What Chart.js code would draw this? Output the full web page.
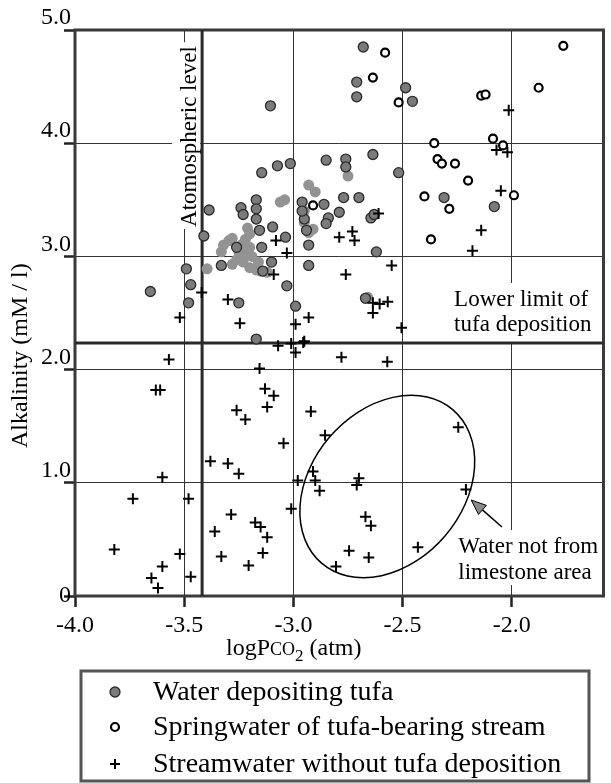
<!DOCTYPE html>
<html><head><meta charset="utf-8">
<script src="https://cdn.jsdelivr.net/npm/chart.js@4.4.1/dist/chart.umd.min.js"></script>
<style>html,body{margin:0;padding:0;background:#fff;}#wrap{position:relative;width:611px;height:783px;}</style>
</head><body><div id="wrap"><canvas id="c" width="611" height="783"></canvas></div>
<script>
// ---- data ----
const xTicks = [-4.0, -3.5, -3.0, -2.5, -2.0];
const yTicks = [0, 1, 2, 3, 4, 5];
const atmosphericLevel = -3.418;
const lowerLimit = 2.235;

// Water depositing tufa (dark outlined markers)
const tufaX = [-3.105,-3.073,-3.014,-3.145,-3.386,-3.24,-3.23,-3.17,-3.17,-3.17,-3.095,-3.036,-3.155,-3.145,-3.41,-3.33,-3.10,-3.03,-2.93,-2.93,-2.99,-3.49,-3.47,-3.48,-3.655,-3.25,-3.17,-2.68,-2.71,-2.71,-2.486,-2.455,-2.85,-2.76,-2.76,-2.636,-2.518,-2.86,-2.84,-2.85,-2.77,-2.70,-2.79,-2.645,-2.63,-2.62,-2.31,-2.08,-2.67,-2.96,-2.95,-2.94,-2.96,-3.26,-3.14];
const tufaY = [4.33,3.80,3.82,3.74,3.41,3.43,3.37,3.50,3.42,3.33,3.26,3.17,3.23,3.08,3.18,2.92,2.95,2.74,3.10,2.92,2.56,2.89,2.75,2.59,2.69,2.59,2.27,4.85,4.54,4.41,4.49,4.37,3.85,3.86,3.79,3.90,3.74,3.46,3.34,3.29,3.52,3.52,3.39,3.34,3.37,3.04,3.52,3.44,2.63,3.48,3.33,3.23,3.40,3.08,2.87];
// Water depositing tufa (lighter printed markers)
const tufaLightX = [-3.395,-3.33,-3.32,-3.295,-3.28,-3.25,-3.24,-3.22,-3.21,-3.20,-3.26,-3.23,-3.20,-3.17,-3.15,-3.22,-3.19,-3.16,-3.28,-3.20,-3.06,-3.04,-2.93,-2.90,-2.95,-2.95,-2.93,-2.91,-2.75,-2.66,-3.12];
const tufaLightY = [2.89,3.04,3.10,3.14,3.16,3.04,3.10,3.15,3.25,3.20,2.97,2.95,2.90,2.88,2.87,3.02,3.00,2.95,2.93,3.08,3.48,3.50,3.63,3.57,3.40,3.30,3.21,3.24,3.71,2.64,2.86];
// Springwater of tufa-bearing stream
const springX = [-2.58,-2.636,-2.518,-2.14,-2.12,-1.877,-1.764,-2.355,-2.34,-2.32,-2.26,-2.086,-2.04,-2.20,-2.40,-2.286,-1.99,-2.37,-2.91];
const springY = [4.80,4.58,4.36,4.42,4.43,4.49,4.86,4.00,3.86,3.82,3.82,4.04,3.98,3.67,3.53,3.42,3.54,3.15,3.45];
// Streamwater without tufa deposition
const streamX = [-2.014,-2.07,-2.02,-2.05,-2.14,-2.18,-2.61,-2.79,-2.73,-2.72,-2.55,-2.76,-2.636,-2.605,-2.568,-2.636,-2.93,-2.505,-2.95,-2.78,-2.57,-2.92,-2.855,-2.245,-2.91,-2.90,-2.88,-2.70,-2.71,-2.21,-2.67,-2.645,-2.745,-2.655,-2.805,-2.43,-3.52,-3.245,-3.30,-2.99,-3.07,-3.01,-2.955,-2.99,-3.57,-3.155,-3.63,-3.61,-3.13,-3.09,-3.12,-3.26,-3.22,-3.045,-3.38,-3.30,-3.25,-3.60,-2.98,-3.735,-3.48,-3.01,-3.285,-3.175,-3.15,-3.12,-3.36,-3.82,-3.52,-3.33,-3.14,-3.60,-3.205,-3.65,-3.47,-3.62,-3.42,-3.08,-3.03,-3.09];
const streamY = [4.29,3.94,3.92,3.58,3.23,3.05,3.38,3.17,3.22,3.14,2.92,2.84,2.59,2.58,2.60,2.50,2.46,2.37,2.25,2.11,2.07,1.63,1.42,1.49,1.10,1.02,0.93,1.04,0.98,0.94,0.70,0.62,0.40,0.34,0.26,0.43,2.46,2.41,2.62,2.40,2.21,2.23,2.24,2.15,2.09,2.01,1.82,1.82,1.83,1.77,1.67,1.64,1.56,1.35,1.19,1.17,1.08,1.05,1.02,0.86,0.86,0.77,0.72,0.65,0.61,0.52,0.57,0.41,0.37,0.35,0.38,0.26,0.27,0.16,0.17,0.07,2.68,3.14,3.03,2.84];

const legendLabels = ['Water depositing tufa', 'Springwater of tufa-bearing stream', 'Streamwater without tufa deposition'];

// ---- chart ----
const SERIF = "'Liberation Serif', 'Times New Roman', serif";
const pts = (xs, ys) => xs.map((x, i) => ({x: x, y: ys[i]}));

const annot = {
  id: 'annot',
  beforeDatasetsDraw(chart) {
    const {ctx, chartArea: ca, scales: {x, y}} = chart;
    const ppu = (x.getPixelForValue(-3) - x.getPixelForValue(-4));
    ctx.save();
    ctx.fillStyle = '#000';
    ctx.textBaseline = 'alphabetic';
    ctx.textAlign = 'left';

    // "Atomospheric level" label (white box hides grid behind text)
    const ax = x.getPixelForValue(-3.4455), ay = y.getPixelForValue(3.26);
    ctx.font = '23px ' + SERIF;
    const aw = ctx.measureText('Atomospheric level').width;
    ctx.fillStyle = '#fff';
    ctx.fillRect(ax - 24, ay - aw - 4, 28, aw + 6);
    ctx.fillStyle = '#000';
    ctx.save();
    ctx.translate(ax, ay);
    ctx.rotate(-Math.PI / 2);
    ctx.fillText('Atomospheric level', 0, 0);
    ctx.restore();

    // "Lower limit of tufa deposition"
    const lx = x.getPixelForValue(-2.264), lb = y.getPixelForValue(2.562);
    const lineY = y.getPixelForValue(lowerLimit);
    ctx.fillStyle = '#fff';
    ctx.fillRect(lx - 5, lb - 23, 150, lineY - (lb - 23));
    ctx.fillStyle = '#000';
    ctx.fillText('Lower limit of', lx, lb);
    ctx.fillText('tufa deposition', lx, lb + 25);

    // "Water not from limestone area"
    const wx = x.getPixelForValue(-2.245), wb = y.getPixelForValue(0.38);
    ctx.fillStyle = '#fff';
    ctx.fillRect(wx - 5, wb - 23, 150, 55);
    ctx.fillStyle = '#000';
    ctx.fillText('Water not from', wx, wb);
    ctx.fillText('limestone area', wx, wb + 26);

    // frame
    ctx.strokeStyle = '#3a3a3a';
    ctx.lineWidth = 3;
    ctx.strokeRect(ca.left, ca.top, ca.right - ca.left, ca.bottom - ca.top);

    // atmospheric level & lower limit lines
    ctx.strokeStyle = '#2a2a2a';
    ctx.lineWidth = 3;
    const atx = x.getPixelForValue(atmosphericLevel);
    ctx.beginPath();
    ctx.moveTo(atx, ca.top); ctx.lineTo(atx, ca.bottom);
    ctx.moveTo(ca.left, lineY); ctx.lineTo(ca.right, lineY);
    ctx.stroke();

    // ellipse around non-limestone waters
    const ex = x.getPixelForValue(-2.57), ey = y.getPixelForValue(0.967);
    ctx.strokeStyle = '#000';
    ctx.lineWidth = 1.5;
    ctx.beginPath();
    ctx.ellipse(ex, ey, 0.4623 * ppu, 0.3480 * ppu, -49.4 * Math.PI / 180, 0, Math.PI * 2);
    ctx.stroke();

    // arrow
    const tx = x.getPixelForValue(-2.045), ty = y.getPixelForValue(0.61);
    const hx = x.getPixelForValue(-2.186), hy = y.getPixelForValue(0.848);
    const ang = Math.atan2(hy - ty, hx - tx);
    const hl = 15, hw = 6;
    const bx = hx - hl * Math.cos(ang), by = hy - hl * Math.sin(ang);
    ctx.beginPath();
    ctx.moveTo(tx, ty); ctx.lineTo(bx, by);
    ctx.lineWidth = 1.5;
    ctx.stroke();
    ctx.beginPath();
    ctx.moveTo(hx, hy);
    ctx.lineTo(bx + hw * Math.sin(ang), by - hw * Math.cos(ang));
    ctx.lineTo(bx - hw * Math.sin(ang), by + hw * Math.cos(ang));
    ctx.closePath();
    ctx.fillStyle = '#8a8a8a';
    ctx.fill();
    ctx.lineWidth = 1;
    ctx.stroke();
    ctx.restore();
  },
  afterDraw(chart) {
    const {ctx} = chart;
    ctx.save();
    ctx.fillStyle = '#000';
    ctx.textBaseline = 'alphabetic';
    ctx.textAlign = 'left';
    // y title
    ctx.save();
    ctx.translate(27, 448);
    ctx.rotate(-Math.PI / 2);
    ctx.font = '24px ' + SERIF;
    ctx.fillText('Alkalinity (mM / l)', 0, 0);
    ctx.restore();
    // x title: logP CO 2 (atm)
    let cx = 226; const base = 655;
    ctx.font = '24px ' + SERIF; ctx.fillText('logP', cx, base); cx += ctx.measureText('logP').width;
    ctx.font = '18px ' + SERIF; ctx.fillText('CO', cx, base); cx += ctx.measureText('CO').width;
    ctx.font = '17px ' + SERIF; ctx.fillText('2', cx, base + 6); cx += ctx.measureText('2').width;
    ctx.font = '24px ' + SERIF; ctx.fillText(' (atm)', cx, base);

    // legend box
    ctx.strokeStyle = '#555';
    ctx.lineWidth = 3;
    ctx.strokeRect(81, 671, 508, 110);
    const mx = 115, rows = [692, 727, 764], bases = [700, 735, 772];
    // filled circle
    ctx.beginPath(); ctx.arc(mx, rows[0], 5, 0, Math.PI * 2);
    ctx.fillStyle = '#7b7b7b'; ctx.fill(); ctx.lineWidth = 1.3; ctx.strokeStyle = '#2b2b2b'; ctx.stroke();
    // hollow circle
    ctx.beginPath(); ctx.arc(mx, rows[1], 4, 0, Math.PI * 2);
    ctx.fillStyle = '#fff'; ctx.fill(); ctx.lineWidth = 2.2; ctx.strokeStyle = '#000'; ctx.stroke();
    // plus
    ctx.beginPath(); ctx.moveTo(mx - 5, rows[2]); ctx.lineTo(mx + 5, rows[2]);
    ctx.moveTo(mx, rows[2] - 5); ctx.lineTo(mx, rows[2] + 5); ctx.lineWidth = 2; ctx.stroke();
    ctx.fillStyle = '#000';
    ctx.font = '28px ' + SERIF;
    legendLabels.forEach((t, i) => ctx.fillText(t, 153, bases[i]));
    ctx.restore();
  }
};

new Chart(document.getElementById('c'), {
  type: 'scatter',
  data: {
    datasets: [
      {label: legendLabels[2], data: pts(streamX, streamY), pointStyle: 'cross', pointRadius: 5.5, pointBorderColor: '#000', pointBorderWidth: 2, pointBackgroundColor: '#000'},
      {label: legendLabels[1], data: pts(springX, springY), pointStyle: 'circle', pointRadius: 4, pointBackgroundColor: '#fff', pointBorderColor: '#000', pointBorderWidth: 2.2},
      {label: legendLabels[0], data: pts(tufaX, tufaY), pointStyle: 'circle', pointRadius: 5, pointBackgroundColor: '#7b7b7b', pointBorderColor: '#2b2b2b', pointBorderWidth: 1.3},
      {label: legendLabels[0] + ' ', data: pts(tufaLightX, tufaLightY), pointStyle: 'circle', pointRadius: 5.5, pointBackgroundColor: '#939393', pointBorderColor: '#939393', pointBorderWidth: 0}
    ]
  },
  options: {
    responsive: false, animation: false, events: [],
    layout: {padding: {top: 30, right: 4, left: 0, bottom: 0}},
    plugins: {legend: {display: false}, tooltip: {enabled: false}},
    scales: {
      x: {
        type: 'linear', min: -4, max: -1.58,
        afterFit(s) { s.height = 187; },
        afterBuildTicks(s) { s.ticks = xTicks.map(v => ({value: v})); },
        ticks: {color: '#000', font: {family: SERIF, size: 24}, padding: 4, maxRotation: 0, autoSkip: false,
                callback: v => Number(v).toFixed(1)},
        grid: {color: '#333', lineWidth: 1, drawTicks: true, tickLength: 11, tickWidth: 2.5, tickColor: '#222'},
        border: {display: false}
      },
      y: {
        type: 'linear', min: 0, max: 5,
        afterFit(s) { s.width = 75; },
        afterBuildTicks(s) { s.ticks = yTicks.map(v => ({value: v})); },
        ticks: {color: '#000', font: {family: SERIF, size: 24, lineHeight: 1.0}, padding: -7, autoSkip: false,
                callback: v => v === 0 ? '0' : [Number(v).toFixed(1), '']},
        grid: {color: '#333', lineWidth: 1, drawTicks: true, tickLength: 11, tickWidth: 2.5, tickColor: '#222'},
        border: {display: false}
      }
    }
  },
  plugins: [annot]
});
</script></body></html>
